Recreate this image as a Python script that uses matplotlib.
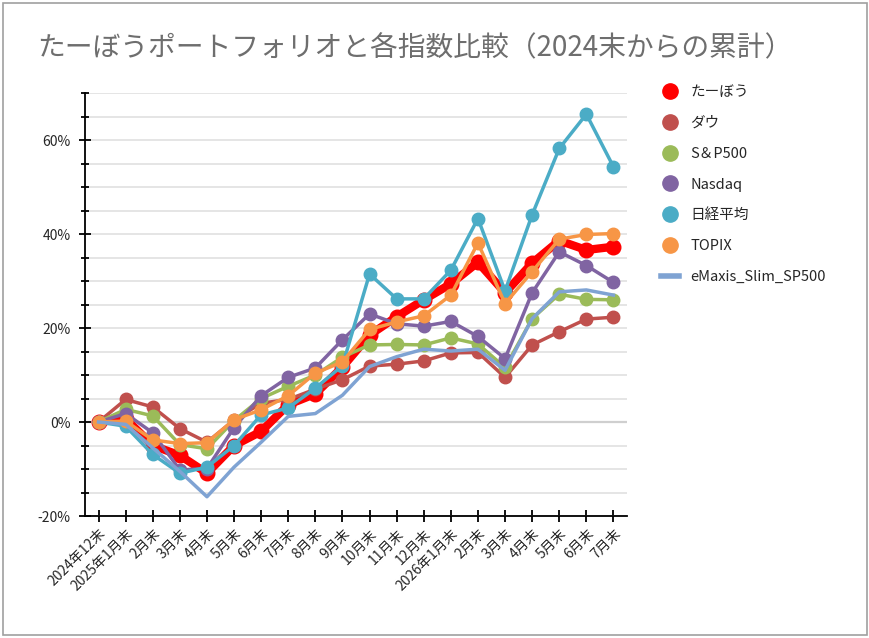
import numpy as np
import matplotlib
matplotlib.use('Agg')
import matplotlib.pyplot as plt
from matplotlib.lines import Line2D
from matplotlib.ticker import MultipleLocator, FuncFormatter
from matplotlib.patches import Rectangle

plt.rcParams['font.family'] = ['Noto Sans CJK JP', 'DejaVu Sans']

# 月末ラベル
months = ['2024年12末', '2025年1月末', '2月末', '3月末', '4月末', '5月末', '6月末',
          '7月末', '8月末', '9月末', '10月末', '11月末', '12月末', '2026年1月末',
          '2月末', '3月末', '4月末', '5月末', '6月末', '7月末']

# 累計リターン (%)
taabou = [0, 0.7, -5.0, -7.1, -10.9, -5.0, -2.0, 3.7, 6.0, 11.7, 18.5, 22.4, 26.0,
          29.4, 34.0, 27.5, 33.8, 38.6, 36.6, 37.3]
dow = [0, 4.8, 3.2, -1.4, -4.3, 0.4, 4.0, 4.8, 7.0, 9.0, 11.9, 12.3, 13.0,
       14.7, 14.8, 9.5, 16.4, 19.2, 21.9, 22.3]
sp500 = [0, 2.7, 1.3, -4.8, -5.7, 0.3, 5.0, 7.6, 10.0, 13.8, 16.4, 16.5, 16.4,
         17.9, 16.6, 11.6, 22.0, 27.2, 26.1, 26.0]
nasdaq = [0, 1.8, -2.3, -10.2, -9.9, -1.2, 5.6, 9.5, 11.5, 17.5, 23.0, 20.9, 20.4,
          21.4, 18.2, 13.5, 27.5, 36.2, 33.3, 29.7]
nikkei = [0, -0.9, -6.9, -10.9, -9.6, -5.0, 1.5, 3.0, 7.2, 12.0, 31.5, 26.2, 26.2,
          32.3, 43.3, 27.9, 44.1, 58.2, 65.5, 54.3]
topix = [0, 0.2, -3.8, -4.6, -4.4, 0.5, 2.6, 5.6, 10.4, 12.8, 19.7, 21.3, 22.6,
         27.0, 38.1, 25.2, 32.0, 38.9, 39.9, 40.1]
emaxis = [0, -0.5, -5.5, -10.5, -15.9, -9.6, -4.3, 1.2, 1.8, 5.7, 11.8, 13.9, 15.5,
          15.1, 15.5, 11.0, 22.0, 27.7, 28.1, 27.0]

names = ['たーぼう', 'ダウ', 'S＆P500', 'Nasdaq', '日経平均', 'TOPIX']
series = [taabou, dow, sp500, nasdaq, nikkei, topix]
colors = ['#FF0000', '#C0504D', '#9BBB59', '#8064A2', '#4BACC6', '#F79646']
emaxis_color = '#7FA3D3'

fig = plt.figure(figsize=(8.7, 6.38), dpi=100)
ax = fig.add_axes([0.0977, 0.1912, 0.6230, 0.6630])

x = np.arange(len(months))

for i, (name, vals, c) in enumerate(zip(names, series, colors)):
    lw = 6 if i == 0 else 2.5
    ms = 10.5 if i == 0 else 9
    ax.plot(x, vals, color=c, lw=lw, marker='o', ms=ms, zorder=3 + i, label=name)
ax.plot(x, emaxis, color=emaxis_color, lw=2.5, zorder=10, label='eMaxis_Slim_SP500')

ax.set_xlim(-0.5, 19.5)
ax.set_ylim(-20, 70)

ax.yaxis.set_major_locator(MultipleLocator(20))
ax.yaxis.set_minor_locator(MultipleLocator(5))
ax.yaxis.set_major_formatter(FuncFormatter(lambda v, p: f'{v:.0f}%'))
ax.grid(which='both', axis='y', color='#E0E0E0', lw=1.2, zorder=0)
ax.axhline(0, color='#808080', lw=1.5, zorder=1)

ax.set_xticks(x)
ax.set_xticklabels(months, rotation=45, ha='right', rotation_mode='anchor')

for s in ['top', 'right']:
    ax.spines[s].set_visible(False)
for s in ['left', 'bottom']:
    ax.spines[s].set_color('black')
    ax.spines[s].set_linewidth(1.3)

ax.tick_params(axis='y', which='major', direction='inout', length=9, width=1.3,
               labelsize=10, colors='black', pad=6)
ax.tick_params(axis='y', which='minor', direction='inout', length=6, width=1.3)
ax.tick_params(axis='x', direction='inout', length=9, width=1.3, labelsize=10, pad=3)
for lab in ax.get_xticklabels() + ax.get_yticklabels():
    lab.set_color('#262626')

fig.text(0.043, 0.925, 'たーぼうポートフォリオと各指数比較（2024末からの累計）',
         fontsize=20, color='#6E6E6E', va='center', ha='left')

# 凡例
handles = [Line2D([], [], color=c, marker='o', ls='none', ms=11) for c in colors]
handles.append(Line2D([], [], color=emaxis_color, lw=4))
labels = names + ['eMaxis_Slim_SP500']
fig.legend(handles, labels, loc='upper left', bbox_to_anchor=(0.745, 0.887),
           frameon=False, fontsize=10.5, labelspacing=1.15, handlelength=1.2,
           handletextpad=0.8, labelcolor='#262626')

fig.patches.append(Rectangle((0.003, 0.004), 0.993, 0.992, transform=fig.transFigure,
                             fill=False, edgecolor='#A0A0A0', lw=1.2))

fig.savefig('out.png', dpi=100)
